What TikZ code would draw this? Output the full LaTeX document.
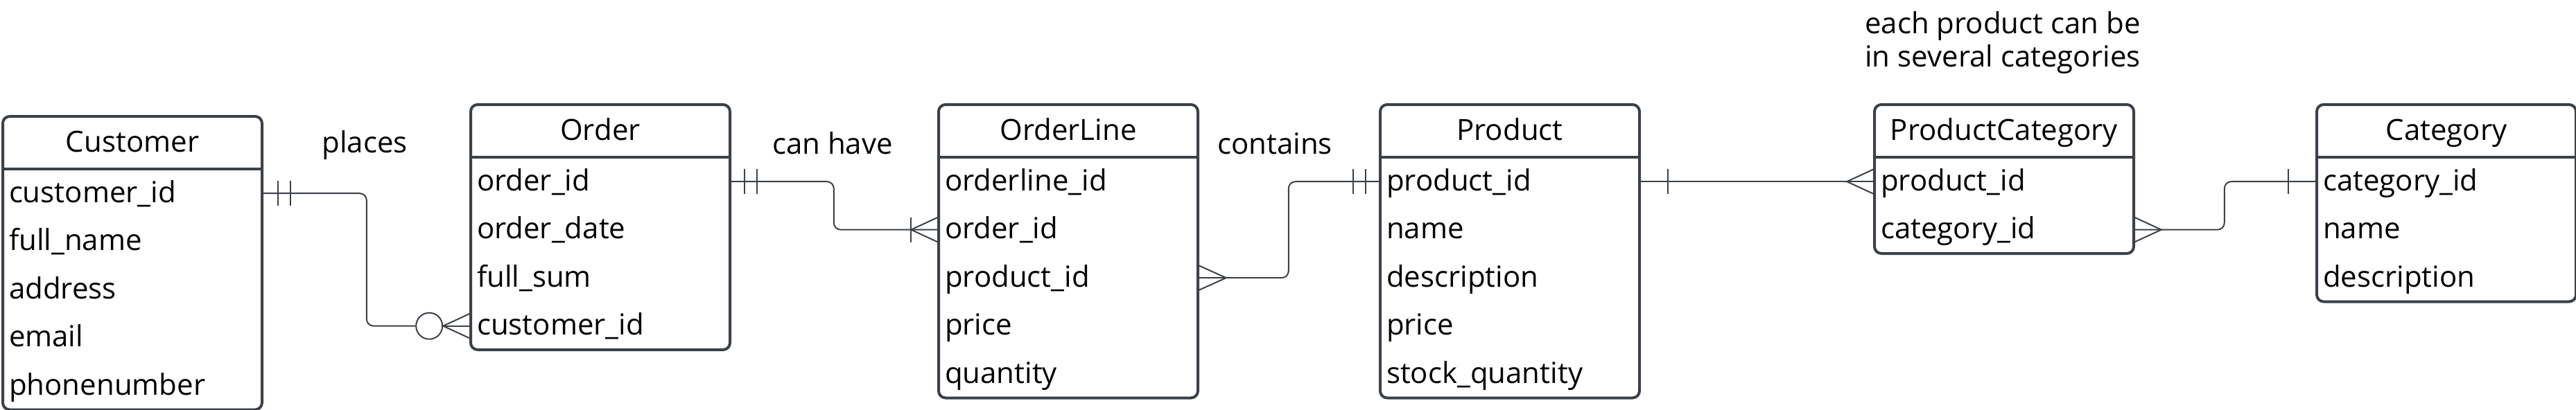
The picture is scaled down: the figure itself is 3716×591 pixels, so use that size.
\documentclass[tikz,border=0pt]{standalone}
\usepackage{fontspec}
\setmainfont{Open Sans}
\usetikzlibrary{calc}

\definecolor{erline}{HTML}{3C4149}

\tikzset{
    entbox/.style={draw=erline, line width=1pt, rounded corners=2.5pt, minimum width=93.5pt, inner sep=0pt, anchor=north west},
    enttitle/.style={minimum width=93.5pt, minimum height=19pt, inner sep=0pt, text height=9pt, text depth=1.5pt, anchor=north},
    sepline/.style={draw=erline, line width=1pt},
    attr/.style={minimum height=17.375pt, text width=89pt, inner xsep=2.25pt, inner ysep=0pt, align=left, text height=8pt, text depth=1.5pt, anchor=north west},
    rel/.style={draw=erline, line width=0.5pt},
    elbow/.style={rel, rounded corners=2.5pt},
    zero/.style={circle, draw=erline, line width=0.5pt, minimum size=9.5pt, inner sep=0pt},
    note/.style={align=center, inner sep=0pt}
}

\begin{document}
\begin{tikzpicture}[x=0.25pt, y=-0.25pt, font=\fontsize{10.5}{12}\selectfont]
    \useasboundingbox (0,0) rectangle (3716,591);

    % Customer
    \node[entbox, minimum height=105.875pt] (cust) at (2,166) {};
    \node[enttitle] (cust-t) at (cust.north) {Customer};
    \draw[sepline] (cust-t.south west) -- (cust-t.south east);
    \foreach \a [count=\i] in {customer\_id, full\_name, address, email, phonenumber}
        \node[attr] (cust-\i) at ($(cust-t.south west)+(0,{(\i-1)*69.5})$) {\a};

    % Order
    \node[entbox, minimum height=88.5pt] (ord) at (677,149) {};
    \node[enttitle] (ord-t) at (ord.north) {Order};
    \draw[sepline] (ord-t.south west) -- (ord-t.south east);
    \foreach \a [count=\i] in {order\_id, order\_date, full\_sum, customer\_id}
        \node[attr] (ord-\i) at ($(ord-t.south west)+(0,{(\i-1)*69.5})$) {\a};

    % OrderLine
    \node[entbox, minimum height=105.875pt] (ol) at (1352,149) {};
    \node[enttitle] (ol-t) at (ol.north) {OrderLine};
    \draw[sepline] (ol-t.south west) -- (ol-t.south east);
    \foreach \a [count=\i] in {orderline\_id, order\_id, product\_id, price, quantity}
        \node[attr] (ol-\i) at ($(ol-t.south west)+(0,{(\i-1)*69.5})$) {\a};

    % Product
    \node[entbox, minimum height=105.875pt] (prod) at (1989,149) {};
    \node[enttitle] (prod-t) at (prod.north) {Product};
    \draw[sepline] (prod-t.south west) -- (prod-t.south east);
    \foreach \a [count=\i] in {product\_id, name, description, price, stock\_quantity}
        \node[attr] (prod-\i) at ($(prod-t.south west)+(0,{(\i-1)*69.5})$) {\a};

    % ProductCategory
    \node[entbox, minimum height=53.75pt] (pc) at (2702,149) {};
    \node[enttitle] (pc-t) at (pc.north) {ProductCategory};
    \draw[sepline] (pc-t.south west) -- (pc-t.south east);
    \foreach \a [count=\i] in {product\_id, category\_id}
        \node[attr] (pc-\i) at ($(pc-t.south west)+(0,{(\i-1)*69.5})$) {\a};

    % Category
    \node[entbox, minimum height=71.125pt] (cat) at (3340,149) {};
    \node[enttitle] (cat-t) at (cat.north) {Category};
    \draw[sepline] (cat-t.south west) -- (cat-t.south east);
    \foreach \a [count=\i] in {category\_id, name, description}
        \node[attr] (cat-\i) at ($(cat-t.south west)+(0,{(\i-1)*69.5})$) {\a};

    % Customer places Order: one and only one -- zero or many
    \node[zero] (cust-ord0) at ($(ord-4.west)+(-59,0)$) {};
    \draw[elbow] (cust-1.east) -- ++(150,0) |- (cust-ord0.west);
    \draw[rel] ($(cust-1.east)+(22,-18)$) -- ++(0,36);
    \draw[rel] ($(cust-1.east)+(40,-18)$) -- ++(0,36);
    \draw[rel] ($(ord-4.west)+(0,-18)$) -- (cust-ord0.east) -- ($(ord-4.west)+(0,18)$);
    \draw[rel] (cust-ord0.east) -- (ord-4.west);
    \node (places) at (526,210) {places};

    % Order can have OrderLine: one and only one -- one or many
    \draw[elbow] (ord-1.east) -- ++(149,0) |- (ol-2.west);
    \draw[rel] ($(ord-1.east)+(20,-18)$) -- ++(0,36);
    \draw[rel] ($(ord-1.east)+(38,-18)$) -- ++(0,36);
    \draw[rel] ($(ol-2.west)+(0,-18)$) -- ($(ol-2.west)+(-39,0)$) -- ($(ol-2.west)+(0,18)$);
    \draw[rel] ($(ol-2.west)+(-39,-18)$) -- ++(0,36);
    \node (canhave) at (1201,207) {can have};

    % OrderLine contains Product: many -- one and only one
    \draw[elbow] (ol-3.east) -- ++(130,0) |- (prod-1.west);
    \draw[rel] ($(ol-3.east)+(0,-18)$) -- ($(ol-3.east)+(40,0)$) -- ($(ol-3.east)+(0,18)$);
    \draw[rel] ($(prod-1.west)+(-38,-18)$) -- ++(0,36);
    \draw[rel] ($(prod-1.west)+(-20,-18)$) -- ++(0,36);
    \node (contains) at (1839,207) {contains};

    % Product -- ProductCategory: one -- many
    \draw[rel] (prod-1.east) -- (pc-1.west);
    \draw[rel] ($(prod-1.east)+(40,-18)$) -- ++(0,36);
    \draw[rel] ($(pc-1.west)+(0,-18)$) -- ($(pc-1.west)+(-39,0)$) -- ($(pc-1.west)+(0,18)$);
    \node[note] (pcnote) at (2889,62) {each product can be\\in several categories};

    % ProductCategory -- Category: many -- one
    \draw[elbow] (pc-2.east) -- ++(130,0) |- (cat-1.west);
    \draw[rel] ($(pc-2.east)+(0,-18)$) -- ($(pc-2.east)+(39,0)$) -- ($(pc-2.east)+(0,18)$);
    \draw[rel] ($(cat-1.west)+(-40,-18)$) -- ++(0,36);
\end{tikzpicture}
\end{document}
